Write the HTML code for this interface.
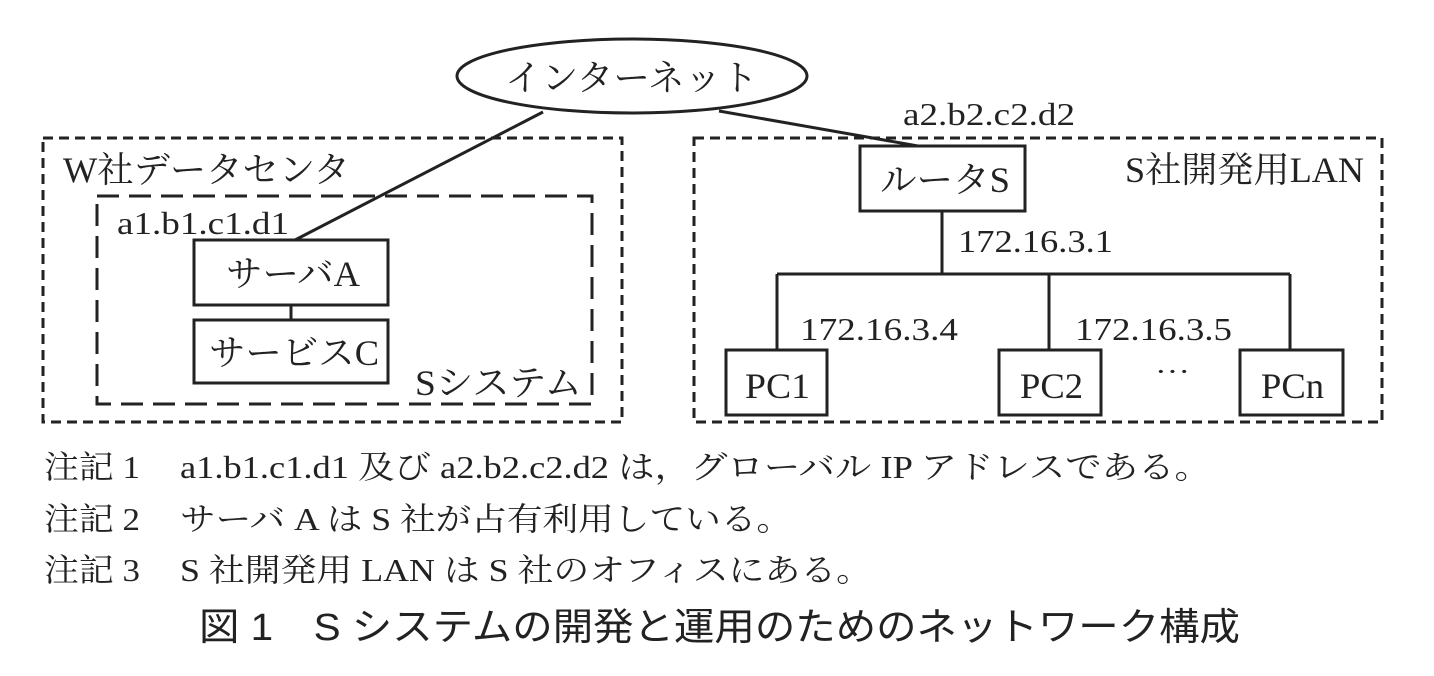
<!DOCTYPE html>
<html><head><meta charset="utf-8"><style>
html,body{margin:0;padding:0;background:#fff;}
svg{display:block;}
text{font-family:"Liberation Serif","Noto Serif CJK SC","Noto Sans CJK JP",serif;fill:#222;}
</style></head><body>
<svg width="1434" height="676" viewBox="0 0 1434 676" xmlns="http://www.w3.org/2000/svg">
<g fill="none" stroke="#222" stroke-width="3">
<ellipse cx="632" cy="76" rx="175" ry="37"/>
<line x1="543" y1="112" x2="295" y2="240"/>
<line x1="719" y1="111" x2="918" y2="146"/>
<rect x="43" y="138" width="579" height="284" stroke-dasharray="10,6"/>
<rect x="97" y="196" width="495" height="208" stroke-dasharray="22,10"/>
<rect x="194" y="240" width="194" height="65"/>
<rect x="194" y="320" width="194" height="63"/>
<line x1="291" y1="305" x2="291" y2="320"/>
<rect x="694" y="138" width="688" height="284" stroke-dasharray="10,6"/>
<rect x="860" y="146" width="165" height="65"/>
<line x1="942" y1="211" x2="942" y2="274"/>
<line x1="777" y1="274" x2="1290" y2="274"/>
<line x1="777" y1="274" x2="777" y2="350"/>
<line x1="1049" y1="274" x2="1049" y2="350"/>
<line x1="1290" y1="274" x2="1290" y2="350"/>
<rect x="726" y="350" width="101" height="65"/>
<rect x="999" y="350" width="102" height="65"/>
<rect x="1240" y="350" width="103" height="65"/>
</g>
<g font-size="36">
<text x="505" y="90" textLength="253" lengthAdjust="spacingAndGlyphs">インターネット</text>
<text x="903" y="125" font-size="32" textLength="172" lengthAdjust="spacingAndGlyphs">a2.b2.c2.d2</text>
<text x="63" y="182" textLength="287" lengthAdjust="spacingAndGlyphs">W社データセンタ</text>
<text x="117" y="234" font-size="32" textLength="172" lengthAdjust="spacingAndGlyphs">a1.b1.c1.d1</text>
<text x="226" y="286" textLength="134" lengthAdjust="spacingAndGlyphs">サーバA</text>
<text x="209" y="365" textLength="170" lengthAdjust="spacingAndGlyphs">サービスC</text>
<text x="415" y="395" textLength="167" lengthAdjust="spacingAndGlyphs">Sシステム</text>
<text x="880" y="192" textLength="130" lengthAdjust="spacingAndGlyphs">ルータS</text>
<text x="1125" y="182" textLength="239" lengthAdjust="spacingAndGlyphs">S社開発用LAN</text>
<text x="958" y="252" font-size="32" textLength="155" lengthAdjust="spacingAndGlyphs">172.16.3.1</text>
<text x="800" y="340" font-size="32" textLength="158" lengthAdjust="spacingAndGlyphs">172.16.3.4</text>
<text x="1075" y="340" font-size="32" textLength="157" lengthAdjust="spacingAndGlyphs">172.16.3.5</text>
<text x="745" y="398" textLength="65" lengthAdjust="spacingAndGlyphs">PC1</text>
<text x="1020" y="398" textLength="63" lengthAdjust="spacingAndGlyphs">PC2</text>
<text x="1261" y="398" textLength="63" lengthAdjust="spacingAndGlyphs">PCn</text>
<text x="1155" y="380" font-size="26" textLength="35" lengthAdjust="spacingAndGlyphs">···</text>
</g>
<g font-size="32">
<text x="44" y="478" textLength="96" lengthAdjust="spacingAndGlyphs">注記 1</text>
<text x="180" y="478" textLength="1031" lengthAdjust="spacingAndGlyphs">a1.b1.c1.d1 及び a2.b2.c2.d2 は，グローバル IP アドレスである。</text>
<text x="44" y="530" textLength="96" lengthAdjust="spacingAndGlyphs">注記 2</text>
<text x="180" y="530" textLength="612" lengthAdjust="spacingAndGlyphs">サーバ A は S 社が占有利用している。</text>
<text x="44" y="581" textLength="96" lengthAdjust="spacingAndGlyphs">注記 3</text>
<text x="180" y="581" textLength="692" lengthAdjust="spacingAndGlyphs">S 社開発用 LAN は S 社のオフィスにある。</text>
</g>
<text x="199" y="640" font-size="38" textLength="1041" lengthAdjust="spacingAndGlyphs" style="font-family:'Liberation Sans','Noto Sans CJK JP',sans-serif">図 1　S システムの開発と運用のためのネットワーク構成</text>
</svg>
</body></html>
